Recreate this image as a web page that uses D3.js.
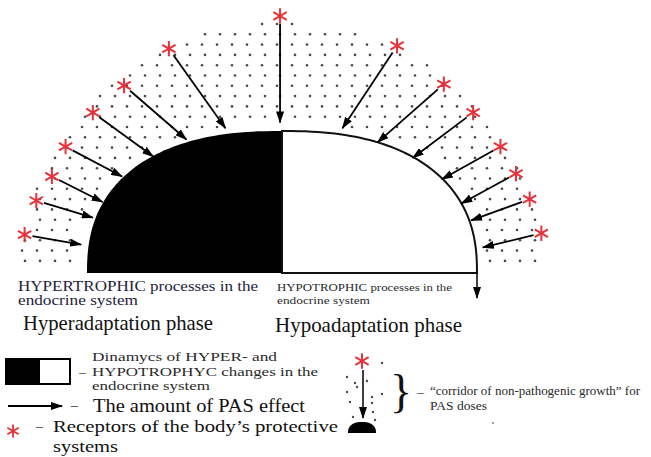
<!DOCTYPE html>
<html>
<head>
<meta charset="utf-8">
<script src="https://cdn.jsdelivr.net/npm/d3@7"></script>
<style>
  body { margin: 0; background: #fff; }
  text { font-family: "Liberation Serif", "Times New Roman", serif; }
</style>
</head>
<body>
<div id="diagram"></div>
<script>
// dome units: x -100..100 is the half-dome width, y 0..100 its height
var receptors = [[-132,27],[-126,51],[-118,68],[-111,89],[-97,113],[-81,132],[-58,158],[-1,181],
                 [59,160],[83,133],[98,113],[112,89],[120,70],[127,52],[133,28]];
var effectTips = [[-103,20],[-97,39],[-92,50],[-82,68],[-66,82],[-49,94],[-29,102],[-1,106],
                  [31,102],[49,92],[67,81],[82,66],[92,49],[97,37],[103,18]];

var phaseLabels = ["Hyperadaptation phase", "Hypoadaptation phase"];
var processLabels = [["HYPERTROPHIC processes in the", "endocrine system"],
                     ["HYPOTROPHIC processes in the", "endocrine system"]];
var legendLabels = [["Dinamycs of HYPER- and", "HYPOTROPHYC changes in the", "endocrine system"],
                    ["The amount of PAS effect"],
                    ["Receptors of the body\u2019s protective", "systems"],
                    ["\u201Ccorridor of non-pathogenic growth\u201D for", "PAS doses"]];

var width = 651, height = 457,
    superN = 2.4,
    red = "#e5323b";

var x = d3.scaleLinear().domain([-100, 100]).range([87, 477]);
var y = d3.scaleLinear().domain([0, 100]).range([273, 131]);

var svg = d3.select("#diagram").append("svg")
  .attr("width", width)
  .attr("height", height);

svg.append("defs").append("marker")
  .attr("id", "head")
  .attr("markerUnits", "userSpaceOnUse")
  .attr("viewBox", "0 0 12 8")
  .attr("refX", 11).attr("refY", 4)
  .attr("markerWidth", 12).attr("markerHeight", 8)
  .attr("orient", "auto")
  .append("path").attr("d", "M0,0L12,4L0,8Z").attr("fill", "#000");

// superellipse outline between two angles
function domePoints(a0, a1) {
  return d3.range(0, 61).map(function(i) {
    var t = a0 + (a1 - a0) * i / 60,
        c = Math.cos(t), s = Math.sin(t);
    return [Math.sign(c) * Math.pow(Math.abs(c), 2 / superN) * 100,
            Math.pow(Math.abs(s), 2 / superN) * 100];
  });
}
function insideDome(u, v) {
  return Math.pow(Math.abs(u / 100), superN) + Math.pow(Math.abs(v / 100), superN) < 1.12;
}

////////////////////////////////////////////////////////////
//////////////////// dotted corridor //////////////////////
////////////////////////////////////////////////////////////

var dots = [];
d3.range(0, 40).forEach(function(c) {
  d3.range(0, 25).forEach(function(r) {
    var px = 22 + c * 15 + (r % 2) * 3, py = 24 + r * 10.3,
        u = x.invert(px), v = y.invert(py);
    if (v > 3 && !insideDome(u, v) && (u * u) / (134 * 134) + (v * v) / (176 * 176) < 1)
      dots.push([px, py]);
  });
});

svg.append("g").selectAll("circle")
  .data(dots).enter().append("circle")
  .attr("cx", function(d) { return d[0]; })
  .attr("cy", function(d) { return d[1]; })
  .attr("r", 1.3)
  .attr("fill", "#4a4a4a");

////////////////////////////////////////////////////////////
//////////////////////// the dome //////////////////////////
////////////////////////////////////////////////////////////

var line = d3.line()
  .x(function(d) { return x(d[0]); })
  .y(function(d) { return y(d[1]); });

svg.append("path")
  .attr("d", line(domePoints(Math.PI, Math.PI / 2).concat([[0, 0]])) + "Z")
  .attr("fill", "#000");

svg.append("path")
  .attr("d", line([[0, 0]].concat(domePoints(Math.PI / 2, 0), [[100, 0]])) + "Z")
  .attr("fill", "#fff")
  .attr("stroke", "#111")
  .attr("stroke-width", 2);

// down arrow at the end of the baseline
svg.append("line")
  .attr("x1", x(100)).attr("y1", y(0))
  .attr("x2", x(100)).attr("y2", y(0) + 25)
  .attr("stroke", "#000").attr("stroke-width", 1.5)
  .attr("marker-end", "url(#head)");

////////////////////////////////////////////////////////////
////////////////// PAS arrows + receptors //////////////////
////////////////////////////////////////////////////////////

svg.append("g").selectAll("line")
  .data(receptors).enter().append("line")
  .each(function(d, i) {
    var sx = x(d[0]), sy = y(d[1]),
        tx = x(effectTips[i][0]), ty = y(effectTips[i][1]),
        len = Math.hypot(tx - sx, ty - sy);
    d3.select(this)
      .attr("x1", sx + (tx - sx) * 8 / len).attr("y1", sy + (ty - sy) * 8 / len)
      .attr("x2", tx).attr("y2", ty);
  })
  .attr("stroke", "#000")
  .attr("stroke-width", 1.8)
  .attr("marker-end", "url(#head)");

var star = d3.symbol().type(d3.symbolAsterisk).size(165);

svg.append("g").selectAll("path")
  .data(receptors).enter().append("path")
  .attr("transform", function(d) { return "translate(" + x(d[0]) + "," + y(d[1]) + ")"; })
  .attr("d", star)
  .attr("fill", "none")
  .attr("stroke", red)
  .attr("stroke-width", 2);

////////////////////////////////////////////////////////////
//////////////////////// labels ////////////////////////////
////////////////////////////////////////////////////////////

function label(txt, px, py, size, len, color) {
  svg.append("text")
    .attr("x", px).attr("y", py)
    .attr("textLength", len).attr("lengthAdjust", "spacingAndGlyphs")
    .style("font-size", size + "px")
    .style("fill", color || "#222")
    .text(txt);
}

label(processLabels[0][0], 18, 291, 14, 240, "#23233a");
label(processLabels[0][1], 18, 305, 14, 120, "#23233a");
label(processLabels[1][0], 277, 291, 10, 175, "#2a2a2a");
label(processLabels[1][1], 277, 304, 10, 93, "#2a2a2a");
label(phaseLabels[0], 23, 330, 21, 190, "#111");
label(phaseLabels[1], 275, 332, 21, 187, "#111");

////////////////////////////////////////////////////////////
//////////////////////// legend ////////////////////////////
////////////////////////////////////////////////////////////

svg.append("rect").attr("x", 6).attr("y", 359).attr("width", 34).attr("height", 25).attr("fill", "#000");
svg.append("rect").attr("x", 6).attr("y", 359).attr("width", 64).attr("height", 25)
  .attr("fill", "none").attr("stroke", "#000").attr("stroke-width", 2);

label("\u2013", 79, 376, 13, 7, "#333");
label(legendLabels[0][0], 92, 361, 12, 185, "#2a2a2a");
label(legendLabels[0][1], 92, 376, 12, 226, "#2a2a2a");
label(legendLabels[0][2], 92, 390, 12, 118, "#2a2a2a");

svg.append("line")
  .attr("x1", 8).attr("y1", 406).attr("x2", 62).attr("y2", 406)
  .attr("stroke", "#000").attr("stroke-width", 1.8)
  .attr("marker-end", "url(#head)");
label("\u2013", 71, 410, 14, 7, "#333");
label(legendLabels[1][0], 93, 412, 19, 212, "#111");

svg.append("path")
  .attr("transform", "translate(13,431)")
  .attr("d", d3.symbol().type(d3.symbolAsterisk).size(120))
  .attr("fill", "none").attr("stroke", red).attr("stroke-width", 1.8);
label("\u2013", 36, 431, 14, 7, "#333");
label(legendLabels[2][0], 53, 432, 17, 285, "#111");
label(legendLabels[2][1], 53, 452, 17, 65, "#111");

// mini corridor icon
var miniDots = [[347,377],[355,383],[367,381],[382,363],[347,392],[372,397],[382,394],
                [350,402],[372,403],[373,412],[353,417],[375,420],[357,387]];
svg.append("g").selectAll("circle")
  .data(miniDots).enter().append("circle")
  .attr("cx", function(d) { return d[0]; })
  .attr("cy", function(d) { return d[1]; })
  .attr("r", 1.2).attr("fill", "#4a4a4a");
svg.append("circle").attr("cx", 493).attr("cy", 423).attr("r", 0.9).attr("fill", "#777");

svg.append("path")
  .attr("transform", "translate(362,361)")
  .attr("d", star)
  .attr("fill", "none").attr("stroke", red).attr("stroke-width", 2);
svg.append("line")
  .attr("x1", 363).attr("y1", 370).attr("x2", 363).attr("y2", 418)
  .attr("stroke", "#000").attr("stroke-width", 1.5)
  .attr("marker-end", "url(#head)");

var mx = d3.scaleLinear().domain([-100, 100]).range([348, 376]),
    my = d3.scaleLinear().domain([0, 100]).range([433, 422]);
svg.append("path")
  .attr("d", d3.line().x(function(d) { return mx(d[0]); }).y(function(d) { return my(d[1]); })(domePoints(Math.PI, 0)) + "Z")
  .attr("fill", "#000");

svg.append("text")
  .attr("x", 390).attr("y", 407)
  .style("font-size", "46px").style("fill", "#111")
  .text("}");
label("\u2013", 417, 396, 13, 7, "#333");
label(legendLabels[3][0], 430, 395, 12, 210, "#2a2a2a");
label(legendLabels[3][1], 430, 410, 12, 57, "#2a2a2a");
</script>
</body>
</html>
